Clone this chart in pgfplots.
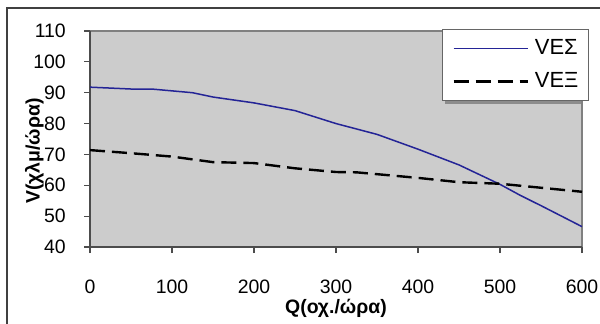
\documentclass[border=0pt]{standalone}
\usepackage{fontspec}
\setmainfont{Liberation Sans}
\usepackage{pgfplots}
\pgfplotsset{compat=1.18}
\definecolor{plotgray}{RGB}{204,204,204}
\definecolor{navyline}{RGB}{36,36,150}
\definecolor{framegray}{RGB}{64,64,64}
\begin{document}
\fontsize{19.5}{23}\selectfont
\begin{tikzpicture}[x=1bp,y=1bp]
\path[use as bounding box] (0,0) rectangle (600,323);
\draw[framegray, line width=2bp] (7,-2) -- (7,315) -- (602,315);
\begin{axis}[
  at={(90bp,76bp)}, anchor=south west,
  scale only axis, width=492bp, height=216bp,
  xmin=0, xmax=600, ymin=40, ymax=110,
  xtick={0,100,...,600}, ytick={40,50,...,110},
  axis x line*=bottom, axis y line*=left,
  axis line style={line width=1.4bp, color=black!70, -},
  tick style={line width=1.2bp, color=black!70},
  tick align=outside, major tick length=6bp,
  axis background/.style={fill=plotgray, draw=gray, line width=1.4bp},
  /pgf/number format/assume math mode=true,
  xticklabel style={anchor=center, yshift=-33.5bp, inner sep=0pt},
  yticklabel style={anchor=east, xshift=-18bp, inner sep=0pt},
  xlabel={\bfseries Q(οχ./ώρα)},
  ylabel={\bfseries V(χλμ/ώρα)},
  every axis x label/.style={at={(axis description cs:0.5,-0.2824)}, anchor=center},
  every axis y label/.style={at={(axis description cs:-0.113,0.444)}, rotate=90, anchor=center},
  legend image code/.code={\draw[#1] (0bp,0bp) -- (74bp,0bp);},
  legend cell align=left,
  legend style={at={(axis description cs:0.7154,1.0093)}, anchor=north west,
    draw=black!60, line width=1bp, fill=white,
    inner xsep=10bp, inner ysep=10bp, row sep=15bp, column sep=6bp,
    font=\fontsize{22}{24}\selectfont,
    nodes={inner sep=0pt}},
]
\fill[black!45] (axis description cs:0.7215,0.662) rectangle (axis description cs:0.998,0.9954);
\addplot[navyline, line width=1.5bp, legend image post style={draw=navyline, line width=1.5bp}] coordinates {
 (0,91.8) (50,91.2) (75,91.2) (125,90.0) (150,88.6) (200,86.7) (250,84.2)
 (300,80.0) (350,76.5) (400,71.7) (450,66.6) (500,60.3) (525,56.7) (550,53.4) (600,46.6)
};
\addlegendentry{VEΣ}
\addplot[black, line width=2.4bp, dash pattern=on 15bp off 7bp, legend image post style={draw=black, line width=2.4bp}] coordinates {
 (0,71.4) (50,70.4) (100,69.3) (150,67.5) (200,67.2) (250,65.5) (300,64.3)
 (325,64.2) (400,62.4) (450,61.0) (500,60.5) (550,59.2) (600,57.9)
};
\addlegendentry{VEΞ}
\end{axis}
\end{tikzpicture}
\end{document}
